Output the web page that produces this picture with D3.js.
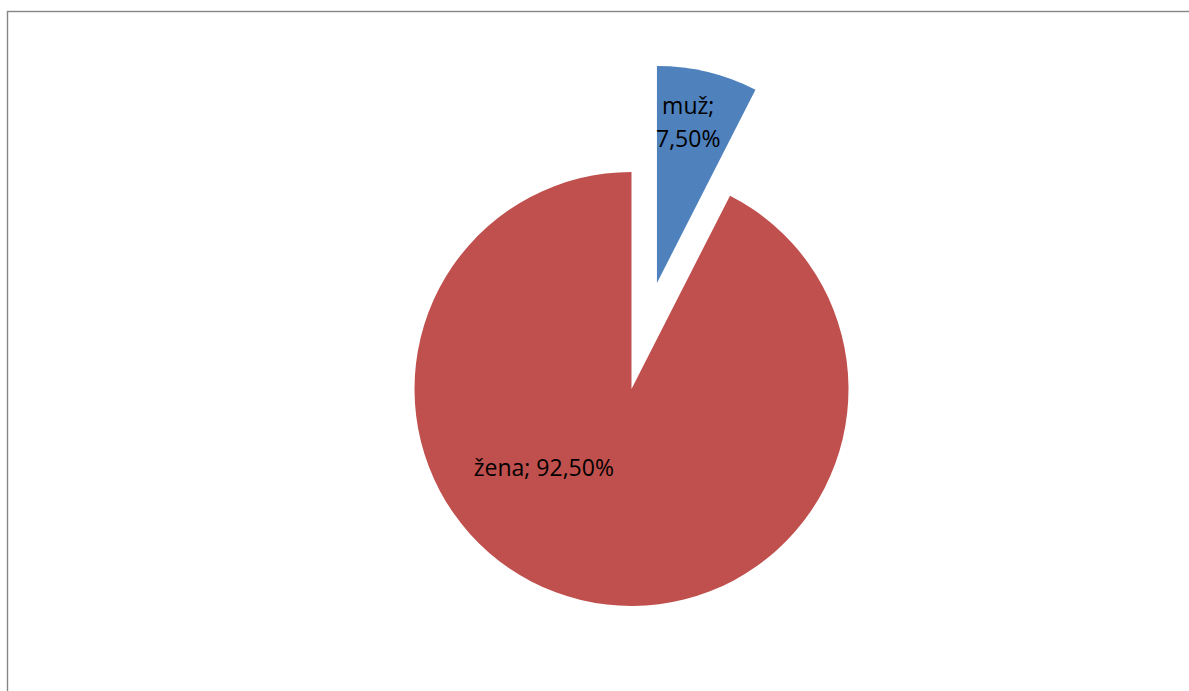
<!DOCTYPE html>
<html>
<head>
<meta charset="utf-8">
<script src="https://cdn.jsdelivr.net/npm/d3@7"></script>
<style>
  body { margin: 0; background: #fff; }
  svg { display: block; }
  .lbl { font-family: "Open Sans", "Noto Sans", sans-serif; font-size: 23px; fill: #000; }
</style>
</head>
<body>
<script>
// chart values
var categories = ["muž", "žena"];
var shares = [7.5, 92.5];
var labelLines = [["muž;", "7,50%"], ["žena; 92,50%"]];
var colors = ["#4F81BD", "#C0504D"];

var W = 1189, H = 691;
var cx = 631.5, cy = 389, r = 217;
var explode = [109, 0];          // slice pull-out in px
var labelPos = [                 // [angle (deg from top, clockwise), radius]
    [11, 164],
    [228, 118]
];

var svg = d3.select("body").append("svg")
    .attr("width", W)
    .attr("height", H);

// chart area border
svg.append("rect")
    .attr("x", 7.5)
    .attr("y", 11.5)
    .attr("width", W + 10)
    .attr("height", H + 10)
    .attr("fill", "#fff")
    .attr("stroke", "#868686")
    .attr("stroke-width", 1.4);

var pie = d3.pie().sort(null).value(function (d) { return d; });
var arcs = pie(shares);

var arc = d3.arc().innerRadius(0).outerRadius(r);

var g = svg.append("g").attr("transform", "translate(" + cx + "," + cy + ")");

function offset(d, i) {
    var mid = (d.startAngle + d.endAngle) / 2;
    return [Math.sin(mid) * explode[i], -Math.cos(mid) * explode[i]];
}

g.selectAll("path.slice")
    .data(arcs)
    .enter().append("path")
    .attr("class", "slice")
    .attr("d", arc)
    .attr("fill", function (d, i) { return colors[i]; })
    .attr("transform", function (d, i) {
        var o = offset(d, i);
        return "translate(" + o[0] + "," + o[1] + ")";
    });

var lineH = 33;
arcs.forEach(function (d, i) {
    var o = offset(d, i);
    var a = labelPos[i][0] * Math.PI / 180;
    var p = [Math.sin(a) * labelPos[i][1], -Math.cos(a) * labelPos[i][1]];
    var lines = labelLines[i];
    var x = p[0] + o[0];
    var t = g.append("text")
        .attr("class", "lbl")
        .attr("text-anchor", "middle")
        .attr("x", x)
        .attr("y", p[1] + o[1] - (lines.length - 1) * lineH / 2);
    lines.forEach(function (s, k) {
        t.append("tspan")
            .attr("x", x)
            .attr("dy", k === 0 ? "0.35em" : lineH)
            .text(s);
    });
});
</script>
</body>
</html>
